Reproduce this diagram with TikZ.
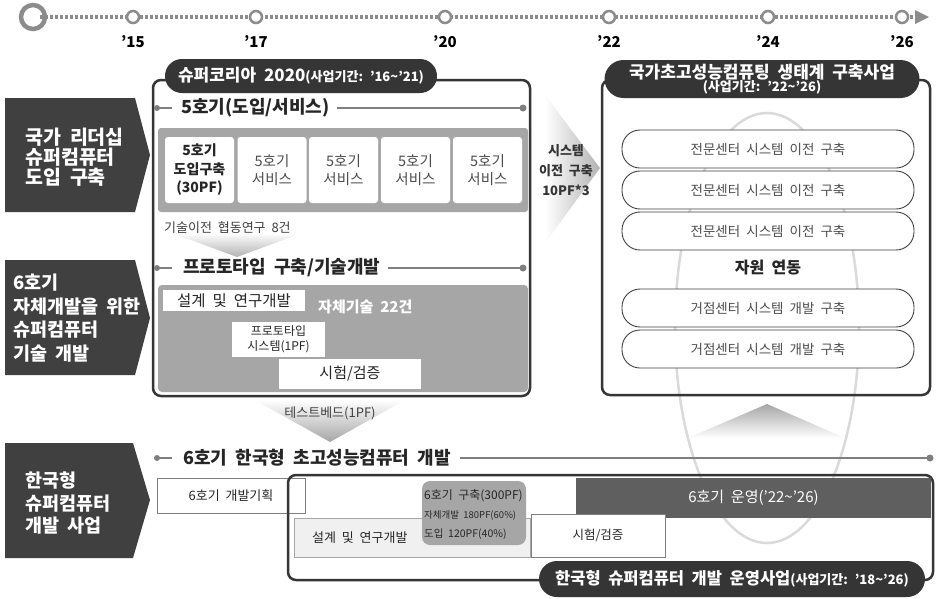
\documentclass[tikz,border=0pt]{standalone}
\usepackage{fontspec}
\setmainfont[WordSpace=2]{Noto Sans CJK KR}
\usetikzlibrary{calc}
\definecolor{dk}{HTML}{404040}
\definecolor{pillc}{HTML}{353535}
\definecolor{bandc}{HTML}{A6A6A6}
\definecolor{linec}{HTML}{7F7F7F}
\definecolor{tlc}{HTML}{8C8C8C}
\definecolor{txt}{HTML}{262626}
\definecolor{midtxt}{HTML}{4D4D4D}
\definecolor{opc}{HTML}{5F5F5F}
\definecolor{lightfill}{HTML}{F0F0F0}
\definecolor{ellc}{HTML}{DADADA}
\newcommand{\myfs}[2]{\fontsize{#1}{#2}\selectfont}
\tikzset{
  yearlbl/.style={font={\myfs{15}{18}\bfseries}, text=black, inner sep=0pt},
  yeartick/.style={draw=tlc, line width=2.5pt, fill=white, circle, minimum size=12pt, inner sep=0pt},
  sidetxt/.style={text=white, align=left, inner sep=0pt, anchor=west},
  hdr/.style={font={\myfs{18}{22}\bfseries}, text=txt, inner sep=1pt, anchor=west},
  bigframe/.style={draw=pillc, line width=2.5pt, rounded corners=8pt},
  titlepill/.style={fill=pillc, text=white, inner sep=0pt, align=center},
  svbox/.style={fill=white, rounded corners=3pt, minimum width=69pt, minimum height=66pt, inner sep=0pt, align=center},
  wbox/.style={fill=white, inner sep=0pt, align=center},
  obox/.style={fill=white, draw=linec, line width=0.8pt, inner sep=0pt, align=center},
  ringpill/.style={fill=white, draw=dk, line width=0.9pt, rounded corners=18pt, minimum width=292pt, minimum height=38pt, font={\myfs{13.5}{16}}, text=midtxt, inner sep=0pt},
  note/.style={font={\myfs{13}{16}}, text=dk, inner sep=0pt},
  hline/.style={draw=linec, line width=1.6pt},
}
\begin{document}
\begin{tikzpicture}[x=1pt,y=-1pt]
\useasboundingbox (0,0) rectangle (946,598);
\fill[white] (0,0) rectangle (946,598);

% background ellipse
\draw[ellc, line width=2.5pt] (767,328) ellipse [x radius=92pt, y radius=215pt];

% timeline
\draw[tlc, line width=3.5pt, dash pattern=on 3pt off 2pt] (40,17) -- (917,17);
\fill[tlc] (915,10) -- (929,17) -- (915,24) -- cycle;
\node[draw=tlc, line width=4.5pt, circle, minimum size=24pt, inner sep=0pt] (t0) at (33,17) {};
\foreach \x/\y/\n in {133/15/a, 256/17/b, 445/20/c, 609/22/d, 768/24/e, 902/26/f}{
  \node[yeartick] (tk\n) at (\x,17) {};
  \node[yearlbl] (yr\n) at (\x,42) {’\y};
}

% left side arrows
\fill[dk] (5,98) -- (135,98) -- (150,155) -- (135,212) -- (5,212) -- cycle;
\node[sidetxt, font={\myfs{19.5}{20}\bfseries}] (side1) at (25,157) {국가 리더십\\슈퍼컴퓨터\\도입 구축};
\fill[dk] (5,260) -- (135,260) -- (150,318) -- (135,375) -- (5,375) -- cycle;
\node[sidetxt, font={\myfs{18.5}{23.5}\bfseries}] (side2) at (13,318) {6호기\\자체개발을 위한\\슈퍼컴퓨터\\기술 개발};
\fill[dk] (5,443) -- (133,443) -- (150,500) -- (133,558) -- (5,558) -- cycle;
\node[sidetxt, font={\myfs{18.5}{22.5}\bfseries}] (side3) at (25,503) {한국형\\슈퍼컴퓨터\\개발 사업};

% ===== Super Korea 2020 frame =====
\draw[bigframe] (153,80) rectangle (530,396);
\node[titlepill, rounded corners=17pt, minimum width=272pt, minimum height=34pt] (sk) at (301,76)
  {{\myfs{17}{20}\bfseries 슈퍼코리아 2020}{\myfs{13}{16}\bfseries(사업기간: ’16\textasciitilde’21)}};

% header 1
\fill[linec] (157,108) circle[radius=3pt];
\draw[hline] (157,108) -- (172,108);
\node[hdr] (h1) at (180,108) {5호기(도입/서비스)};
\fill[linec] (523,108) circle[radius=3.5pt];
\draw[hline] ([xshift=6pt]h1.east) -- (523,108);

% band of 5th systems
\fill[bandc, rounded corners=3pt] (158,128) rectangle (528,212);
\node[svbox, font={\myfs{14}{18.5}\bfseries}, text=txt] (s1) at (199.5,170) {5호기\\도입구축\\(30PF)};
\node[svbox, font={\myfs{14.5}{18}}, text=midtxt] (s2) at (272,170) {5호기\\서비스};
\node[svbox, font={\myfs{14.5}{18}}, text=midtxt] (s3) at (343.5,170) {5호기\\서비스};
\node[svbox, font={\myfs{14.5}{18}}, text=midtxt] (s4) at (415.5,170) {5호기\\서비스};
\node[svbox, font={\myfs{14.5}{18}}, text=midtxt] (s5) at (487.5,170) {5호기\\서비스};

% tech transfer
\shade[top color=white, bottom color=black!30] (172,233) -- (302,233) -- (237,257) -- cycle;
\node[note, anchor=west] (tt) at (164,228) {기술이전 협동연구 8건};

% header 2
\fill[linec] (157,268) circle[radius=3pt];
\draw[hline] (157,268) -- (172,268);
\node[hdr] (h2) at (182,268) {프로토타입 구축/기술개발};
\fill[linec] (523,268) circle[radius=3.5pt];
\draw[hline] ([xshift=6pt]h2.east) -- (523,268);

% prototype panel
\fill[bandc, rounded corners=4pt] (158,285) rectangle (528,392);
\node[wbox, minimum width=142pt, minimum height=21pt, font={\myfs{15.5}{18}}, text=txt] (dsg) at (234,300.5) {설계 및 연구개발};
\node[inner sep=0pt, anchor=west, font={\myfs{15}{18}\bfseries}, text=white] (own) at (318,307) {자체기술 22건};
\node[wbox, minimum width=93pt, minimum height=35pt, font={\myfs{12}{15}}, text=txt] (proto) at (278.5,339.5) {프로토타입\\시스템(1PF)};
\node[wbox, minimum width=142pt, minimum height=30pt, font={\myfs{15}{18}}, text=txt] (tst) at (350,374) {시험/검증};

% testbed chevron
\shade[top color=white, bottom color=black!35] (255,400) -- (405,400) -- (330,442) -- cycle;
\node[note] (tb) at (330,413) {테스트베드(1PF)};

% system transfer chevron
\shade[left color=white, right color=black!30] (545,95) -- (600,168) -- (545,243) -- cycle;
\node[inner sep=0pt, align=center, font={\myfs{13}{20}\bfseries}, text=pillc] (stx) at (566,170) {시스템\\이전 구축\\10PF*3};

% ===== National ecosystem frame =====
\draw[bigframe] (602,80) rectangle (930,395);
\node[titlepill, rounded corners=19pt, minimum width=315pt, minimum height=38pt] (eco) at (762,79)
  {{\myfs{17}{18}\bfseries 국가초고성능컴퓨팅 생태계 구축사업}\\[-1pt]{\myfs{13}{15}\bfseries (사업기간: ’22\textasciitilde’26)}};
\node[ringpill] (p1) at (768,149) {전문센터 시스템 이전 구축};
\node[ringpill] (p2) at (768,190) {전문센터 시스템 이전 구축};
\node[ringpill] (p3) at (768,231) {전문센터 시스템 이전 구축};
\node[inner sep=0pt, font={\myfs{16}{18}\bfseries}, text=txt] (link) at (768,268) {자원 연동};
\node[ringpill] (p4) at (768,308) {거점센터 시스템 개발 구축};
\node[ringpill] (p5) at (768,349) {거점센터 시스템 개발 구축};

% up chevron
\shade[top color=black!35, bottom color=white] (767,404) -- (845,438) -- (688,438) -- cycle;

% ===== bottom section =====
\fill[linec] (157,458) circle[radius=3pt];
\draw[hline] (157,458) -- (172,458);
\node[hdr] (h3) at (182,458) {6호기 한국형 초고성능컴퓨터 개발};
\fill[linec] (930,458) circle[radius=3.5pt];
\draw[hline] ([xshift=8pt]h3.east) -- (930,458);

\node[obox, minimum width=148pt, minimum height=35pt, font={\myfs{13}{16}}, text=txt] (plan) at (231,495.5) {6호기 개발기획};
\draw[bigframe] (288,475) rectangle (933,580);
\node[fill=lightfill, draw=bandc, line width=0.8pt, minimum width=236pt, minimum height=39pt, inner sep=0pt] (dsg2) at (412,537.5) {};
\node[inner sep=0pt, anchor=west, font={\myfs{13}{16}}, text=txt] (dsg2t) at (312,538) {설계 및 연구개발};
\node[fill=bandc, rounded corners=8pt, minimum width=104pt, minimum height=64pt, inner sep=0pt] (b6) at (474,513) {};
\node[inner sep=0pt, anchor=west, align=left, text=txt, font={\myfs{12}{19}}] (b6t) at (424,515)
  {6호기 구축(300PF)\\{\myfs{9.5}{19}자체개발 180PF(60\%)}\\{\myfs{10.5}{19}도입 120PF(40\%)}};
\node[fill=opc, minimum width=355pt, minimum height=40pt, inner sep=0pt, text=white, font={\myfs{15}{18}}] (op) at (753.5,498) {6호기 운영(’22\textasciitilde’26)};
\node[obox, minimum width=134pt, minimum height=43pt, font={\myfs{12.5}{15}}, text=txt] (tst2) at (598,535.5) {시험/검증};
\node[titlepill, rounded corners=18pt, minimum width=386pt, minimum height=36pt] (kor) at (732,579)
  {{\myfs{16.5}{20}\bfseries 한국형 슈퍼컴퓨터 개발 운영사업}{\myfs{13}{16}\bfseries(사업기간: ’18\textasciitilde’26)}};
\end{tikzpicture}
\end{document}
